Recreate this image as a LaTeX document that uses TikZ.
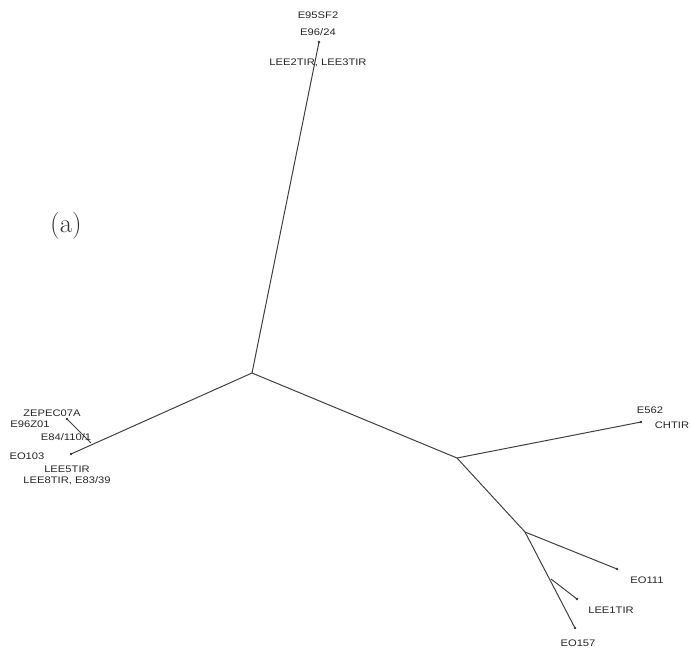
\documentclass[tikz,border=0pt]{standalone}
\usepackage{fontspec}
\newfontfamily\taxonfont[FakeStretch=1.18]{Liberation Sans}
\begin{document}
\begin{tikzpicture}[x=1pt,y=-1pt,
  branch/.style={draw=black!75,line width=1pt},
  tip/.style={circle,fill=black!80,inner sep=0pt,minimum size=2.6pt},
  taxon/.style={font=\taxonfont\fontsize{9.5}{10}\selectfont,text=black!85,inner sep=0pt}]
\useasboundingbox (0,0) rectangle (690,656);
% internal nodes
\coordinate (root) at (252,373);
\coordinate (jl) at (91,443);
\coordinate (jr) at (457,458);
\coordinate (js) at (525,532);
\coordinate (jt) at (551,579);
% leaves
\node[tip] (ttop) at (319,42) {};
\node[tip] (tleft) at (71,454) {};
\node[tip] (tzep) at (67,419) {};
\node[tip] (tch) at (641,422) {};
\node[tip] (te111) at (617,569) {};
\node[tip] (tlee1) at (577,599) {};
\node[tip] (te157) at (575,628) {};
% branches
\draw[branch] (root) -- (ttop.center);
\draw[branch] (root) -- (tleft.center);
\draw[branch] (jl) -- (tzep.center);
\draw[branch] (root) -- (jr);
\draw[branch] (jr) -- (tch.center);
\draw[branch] (jr) -- (js);
\draw[branch] (js) -- (te111.center);
\draw[branch] (js) -- (te157.center);
\draw[branch] (jt) -- (tlee1.center);
% taxon labels
\node[taxon] (l1) at (318,15) {E95SF2};
\node[taxon] (l2) at (318,32) {E96/24};
\node[taxon] (l3) at (318,63) {LEE2TIR, LEE3TIR};
\node[taxon] (l4) at (52,413) {ZEPEC07A};
\node[taxon] (l5) at (30,424) {E96Z01};
\node[taxon] (l6) at (66,437) {E84/110/1};
\node[taxon] (l7) at (27,456) {EO103};
\node[taxon] (l8) at (67,469) {LEE5TIR};
\node[taxon] (l9) at (67,481) {LEE8TIR, E83/39};
\node[taxon] (l10) at (650,410) {E562};
\node[taxon] (l11) at (672,425) {CHTIR};
\node[taxon] (l12) at (647,580) {EO111};
\node[taxon] (l13) at (611,610) {LEE1TIR};
\node[taxon] (l14) at (578,643) {EO157};
% panel label
\node[font=\fontsize{27}{30}\selectfont,text=black!80,inner sep=0pt] (panel) at (66,226) {(a)};
\end{tikzpicture}
\end{document}
